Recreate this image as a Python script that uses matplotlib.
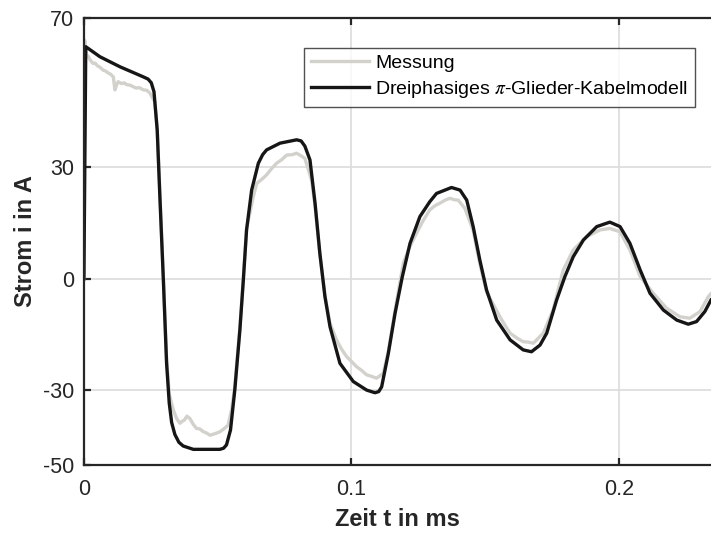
import numpy as np
from matplotlib import pyplot as plt

plt.rcParams['font.family'] = ['Liberation Sans', 'DejaVu Sans']
plt.rcParams['mathtext.fontset'] = 'stix'

# Kabelmodell (schwarz): Zeit in ms, Strom in A
t_model = [0.0, 0.0007, 0.006, 0.0135, 0.0222, 0.024, 0.0252, 0.0262, 0.0274, 0.0284,
           0.0297, 0.0309, 0.0319, 0.0328, 0.034, 0.0355, 0.0371, 0.0409, 0.0508,
           0.0522, 0.0533, 0.0548, 0.0564, 0.0583, 0.0596, 0.0608, 0.0627, 0.0652,
           0.0668, 0.0683, 0.0733, 0.0795, 0.0812, 0.0826, 0.0845, 0.0864, 0.0882,
           0.0901, 0.092, 0.0957, 0.1007, 0.1057, 0.1088, 0.1102, 0.1113, 0.1138,
           0.1163, 0.119, 0.1219, 0.1256, 0.1293, 0.1318, 0.1374, 0.1406, 0.1431,
           0.1455, 0.148, 0.1505, 0.1543, 0.1593, 0.1642, 0.1673, 0.1705, 0.173,
           0.1767, 0.1798, 0.1829, 0.1867, 0.1917, 0.1966, 0.2004, 0.2041, 0.2079,
           0.2116, 0.2166, 0.2216, 0.2259, 0.229, 0.2321, 0.2344]
i_model = [0.0, 62.3, 59.6, 56.9, 54.2, 53.6, 52.6, 50.2, 39.9, 22.0,
           -0.3, -22.6, -33.4, -38.6, -41.8, -43.9, -44.9, -45.8, -45.8,
           -45.5, -44.6, -40.6, -29.9, -13.8, -0.3, 13.1, 23.8, 31.0,
           33.3, 34.6, 36.4, 37.3, 37.0, 35.6, 31.9, 20.3, 6.8,
           -4.8, -12.9, -22.7, -27.6, -29.9, -30.6, -30.3, -29.0, -20.0,
           -9.3, 0.5, 9.5, 16.7, 20.7, 22.9, 24.5, 23.8, 21.1,
           14.0, 5.0, -3.0, -11.1, -16.4, -19.1, -19.6, -17.8, -14.6,
           -5.7, 0.6, 5.9, 10.4, 14.0, 15.2, 14.0, 9.5, 2.4,
           -3.9, -8.4, -11.1, -12.2, -11.5, -8.8, -5.7]

t_meas = [0.0, 0.0003, 0.001, 0.0016, 0.0022, 0.0028, 0.0035, 0.0042, 0.005, 0.006,
          0.0072, 0.008, 0.009, 0.01, 0.011, 0.0116, 0.0122, 0.0128, 0.014, 0.015,
          0.016, 0.0172, 0.0183, 0.0195, 0.0208, 0.0222, 0.0235, 0.0247, 0.0265,
          0.0274, 0.0284, 0.0297, 0.0309, 0.0319, 0.0334, 0.0347, 0.0359, 0.0368,
          0.0375, 0.0385, 0.0396, 0.0408, 0.0421, 0.0433, 0.0445, 0.0458, 0.0471,
          0.049, 0.0508, 0.0525, 0.0539, 0.0552, 0.0564, 0.0583, 0.0596, 0.0608,
          0.0633, 0.0646, 0.0665, 0.0683, 0.0702, 0.072, 0.074, 0.0758, 0.0778,
          0.0795, 0.0812, 0.0826, 0.0851, 0.0864, 0.0882, 0.0901, 0.092, 0.0944,
          0.0962, 0.0982, 0.1, 0.1019, 0.1038, 0.1057, 0.1075, 0.1094, 0.1119,
          0.1138, 0.1163, 0.1194, 0.1218, 0.1243, 0.1268, 0.1293, 0.1312, 0.1331,
          0.135, 0.1368, 0.1385, 0.1399, 0.1424, 0.1455, 0.148, 0.1505, 0.1555,
          0.1575, 0.1593, 0.1618, 0.1642, 0.166, 0.168, 0.1717, 0.1754, 0.1779,
          0.1792, 0.1829, 0.1879, 0.1929, 0.1966, 0.2004, 0.2041, 0.2079, 0.2128,
          0.2178, 0.2228, 0.2265, 0.2303, 0.2334, 0.2344]
i_meas = [0.0, 64.0, 59.6, 59.8, 58.9, 58.3, 57.8, 57.9, 57.2, 56.8,
          56.0, 55.8, 55.3, 54.9, 54.2, 50.7, 52.0, 52.9, 52.4, 52.6,
          52.1, 52.0, 51.6, 51.2, 51.3, 50.7, 50.6, 49.8, 47.5,
          40.5, 23.0, 0.5, -21.5, -31.0, -35.2, -37.6, -38.8, -38.2,
          -38.0, -36.9, -37.5, -39.0, -40.2, -40.3, -41.0, -41.4, -42.0,
          -41.6, -41.1, -40.2, -39.3, -35.2, -29.0, -13.0, 0.2, 13.5,
          22.0, 25.6, 26.7, 27.9, 29.6, 31.0, 32.0, 33.2, 33.3,
          33.7, 33.0, 32.3, 26.5, 19.5, 6.5, -4.5, -12.0, -16.4,
          -18.8, -20.9, -22.2, -23.6, -24.6, -25.8, -26.2, -26.7, -25.4,
          -19.5, -8.5, 4.2, 8.6, 12.2, 15.6, 18.5, 19.6, 20.3,
          21.1, 21.6, 21.2, 21.1, 18.9, 13.0, 4.0, -3.5, -10.2,
          -12.6, -14.6, -15.9, -16.9, -17.0, -17.3, -14.6, -8.4, -1.2,
          2.4, 7.7, 11.3, 13.1, 13.5, 12.6, 7.7, 0.6, -3.9,
          -7.9, -10.2, -10.6, -8.8, -4.8, -4.0]

x_ticks = [0, 0.1, 0.2]
x_ticklabels = ['0', '0.1', '0.2']
y_ticks = [-50, -30, 0, 30, 70]

fig = plt.figure(figsize=(7.11, 5.33), dpi=100)
ax = fig.add_axes([0.118, 0.1276, 0.882, 0.8386])

ax.plot(t_meas, i_meas, color='#d2d1cc', lw=2.4, label='Messung')
ax.plot(t_model, i_model, color='#161616', lw=2.4, label=r'Dreiphasiges $\pi$-Glieder-Kabelmodell',
        solid_joinstyle='round')

ax.set_xlim(0, 0.2344)
ax.set_ylim(-50, 70)
ax.set_xticks(x_ticks)
ax.set_xticklabels(x_ticklabels)
ax.set_yticks(y_ticks)
ax.set_yticklabels([str(v) for v in y_ticks])
ax.grid(True, color='#dcdcdc', lw=1.2)
ax.set_axisbelow(True)

ax.spines['right'].set_visible(False)
for s in ['left', 'bottom', 'top']:
    ax.spines[s].set_color('#262626')
    ax.spines[s].set_linewidth(1.6)
ax.tick_params(direction='in', length=5, width=1.6, color='#262626',
               labelsize=15.5, labelcolor='#262626', top=True)
ax.tick_params(axis='x', pad=10)
ax.tick_params(axis='y', pad=7)

ax.set_xlabel('Zeit t in ms', fontsize=17, fontweight='bold', color='#262626', labelpad=6)
ax.set_ylabel('Strom i in A', fontsize=17, fontweight='bold', color='#262626', labelpad=4)

leg = ax.legend(loc='upper right', fontsize=14, frameon=True, fancybox=False,
                edgecolor='#262626', borderpad=0.35, handlelength=3.0, handletextpad=0.3,
                labelspacing=0.35, bbox_to_anchor=(0.99, 0.955))
leg.get_frame().set_linewidth(1.0)

fig.savefig('out.png', dpi=100)
